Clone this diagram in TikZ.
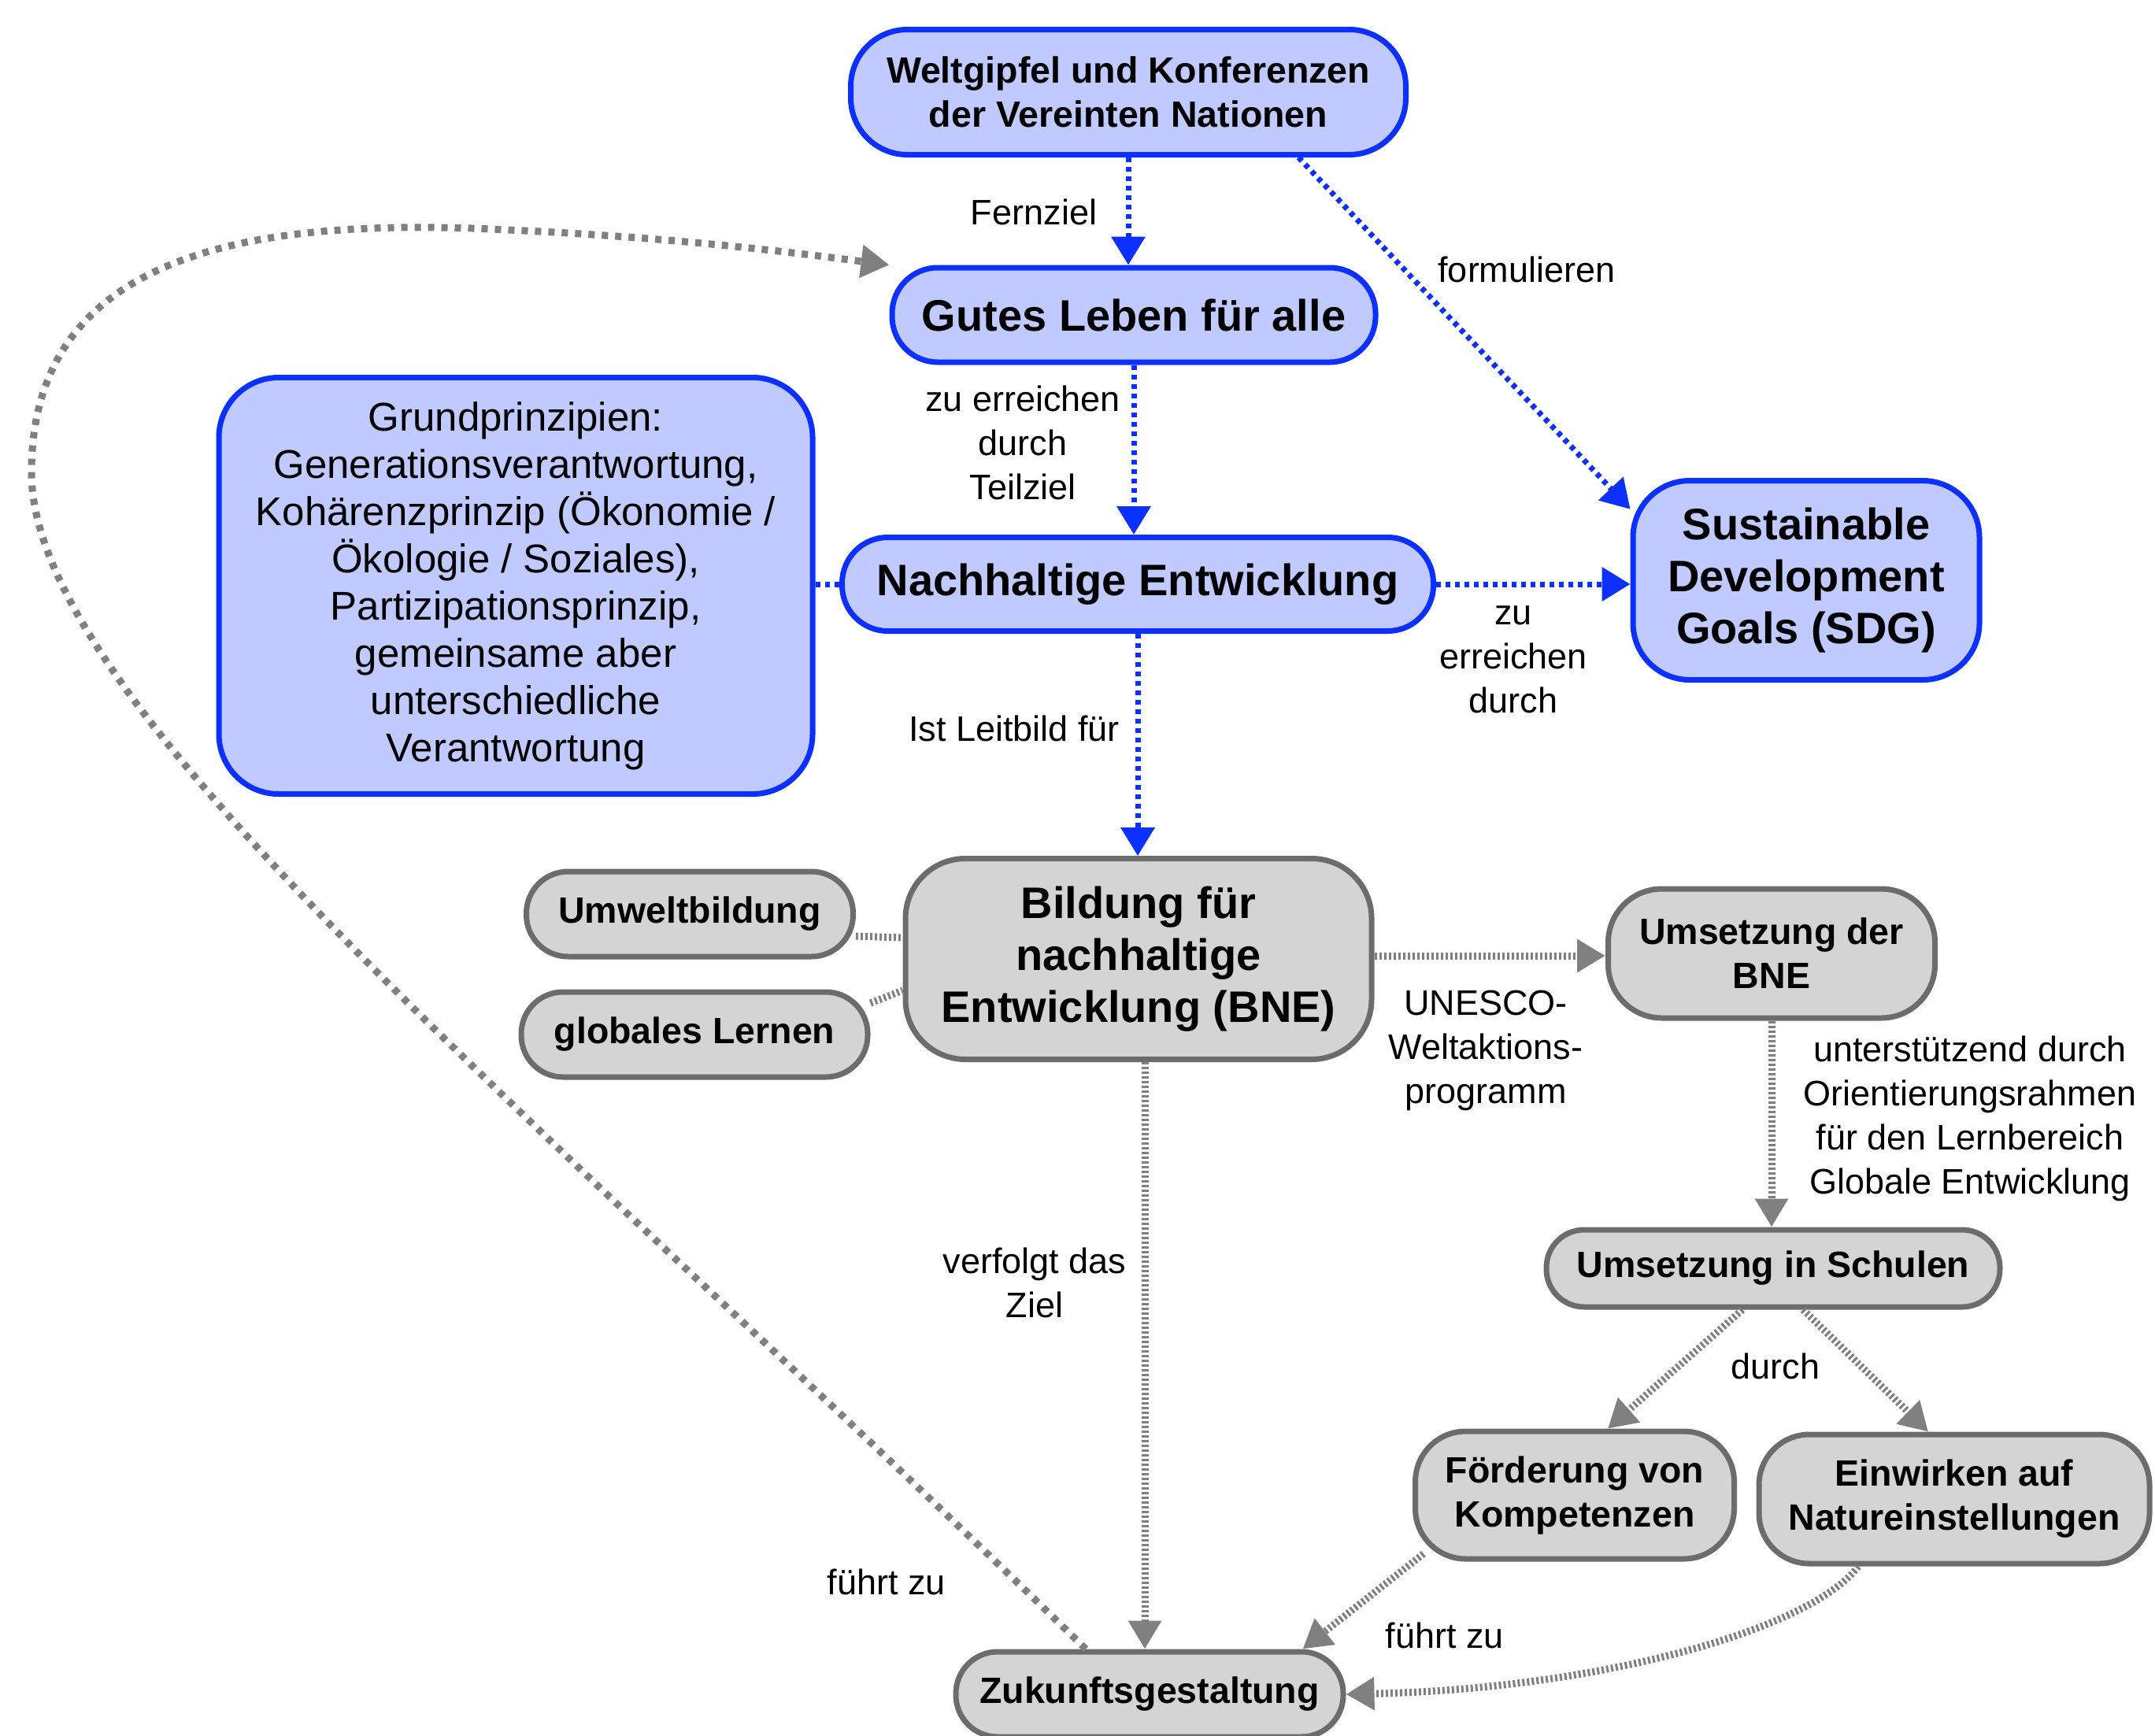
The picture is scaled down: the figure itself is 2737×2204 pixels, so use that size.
\documentclass[tikz,border=0pt]{standalone}
\usepackage{fontspec}
\setmainfont{Liberation Sans}
\usetikzlibrary{arrows.meta,calc}
\definecolor{bfill}{RGB}{192,202,255}
\definecolor{bline}{RGB}{12,48,255}
\definecolor{gfill}{RGB}{212,212,212}
\definecolor{gline}{RGB}{108,108,108}
\definecolor{gedgec}{RGB}{128,128,128}
\newcommand\bigbold{\fontsize{56}{66}\selectfont\bfseries}
\newcommand\midbold{\fontsize{46.5}{56}\selectfont\bfseries}
\newcommand\lblfont{\fontsize{45}{56}\selectfont}
\newcommand\grundfont{\fontsize{51}{60}\selectfont}
\begin{document}
\begin{tikzpicture}[x=1pt,y=-1pt,
  bluebox/.style={draw=bline, fill=bfill, line width=7pt, rounded corners=52pt, inner sep=0pt, align=center, text=black},
  graybox/.style={draw=gline, fill=gfill, line width=7pt, rounded corners=50pt, inner sep=0pt, align=center, text=black},
  lab/.style={font=\lblfont, align=center, inner sep=0pt, text=black},
  bedge/.style={draw=bline, line width=7pt, dash pattern=on 6pt off 6pt, -{Triangle[length=36pt,width=42pt]}},
  gedge/.style={draw=gedgec, line width=9pt, dash pattern=on 3pt off 3pt, -{Triangle[length=36pt,width=40pt]}},
  loopedge/.style={draw=gedgec, line width=9pt, dash pattern=on 8pt off 9pt, -{Triangle[length=36pt,width=40pt]}}
]
\useasboundingbox (0,0) rectangle (2737,2204);
\fill[white] (0,0) rectangle (2737,2204);

% blue nodes
\node[bluebox, font=\midbold, minimum width=705pt, minimum height=159pt, rounded corners=72pt] (W) at (1433,117) {Weltgipfel und Konferenzen\\der Vereinten Nationen};
\node[bluebox, font=\bigbold, minimum width=614pt, minimum height=120pt, rounded corners=58pt] (G) at (1440,400) {Gutes Leben für alle};
\node[bluebox, font=\grundfont, minimum width=754pt, minimum height=529pt, rounded corners=76pt] (Gr) at (655,744) {Grundprinzipien:\\Generationsverantwortung,\\Kohärenzprinzip (Ökonomie /\\Ökologie / Soziales),\\Partizipationsprinzip,\\gemeinsame aber\\unterschiedliche\\Verantwortung};
\node[bluebox, font=\bigbold, minimum width=751pt, minimum height=119pt, rounded corners=58pt] (N) at (1445,742) {Nachhaltige Entwicklung};
\node[bluebox, font=\bigbold, minimum width=440pt, minimum height=253pt, rounded corners=72pt] (S) at (2294,737) {Sustainable\\Development\\Goals (SDG)};

% gray nodes
\node[graybox, font=\bigbold, minimum width=592pt, minimum height=255pt, rounded corners=76pt] (B) at (1446,1218) {Bildung für\\nachhaltige\\Entwicklung (BNE)};
\node[graybox, font=\midbold, minimum width=415pt, minimum height=108pt, rounded corners=53pt] (U) at (876,1161) {Umweltbildung};
\node[graybox, font=\midbold, minimum width=440pt, minimum height=108pt, rounded corners=53pt] (gl) at (882,1314) {globales Lernen};
\node[graybox, font=\midbold, minimum width=415pt, minimum height=164pt, rounded corners=68pt] (UB) at (2250,1211) {Umsetzung der\\BNE};
\node[graybox, font=\midbold, minimum width=576pt, minimum height=98pt, rounded corners=48pt] (Sch) at (2252,1611) {Umsetzung in Schulen};
\node[graybox, font=\midbold, minimum width=405pt, minimum height=162pt, rounded corners=64pt] (F) at (2000,1899) {Förderung von\\Kompetenzen};
\node[graybox, font=\midbold, minimum width=496pt, minimum height=164pt, rounded corners=64pt] (E) at (2482,1904) {Einwirken auf\\Natureinstellungen};
\node[graybox, font=\midbold, minimum width=492pt, minimum height=108pt, rounded corners=53pt] (Z) at (1460,2152) {Zukunftsgestaltung};

% blue connectors
\draw[bedge] (W.south) -- (W.south |- G.north);
\draw[bedge] (W.-21) -- (S.158);
\draw[bedge] (G.south) -- (G.south |- N.north);
\draw[bedge] (N.east) -- (N.east -| S.west);
\draw[bedge, -] (N.west -| Gr.east) -- (N.west);
\draw[bedge] (N.south) -- (N.south |- B.north);

% gray connectors
\draw[gedge, -] ([yshift=-28pt]U.east) -- ([yshift=27pt]B.west);
\draw[gedge, -] ([yshift=40pt]gl.east) -- ([yshift=-40pt]B.west);
\draw[gedge] ([yshift=4pt]B.east) -- ([yshift=4pt]B.east -| UB.west);
\draw[gedge] (UB.south) -- (UB.south |- Sch.north);
\draw[gedge] ([xshift=-39pt]Sch.south) -- ([xshift=42pt]F.north);
\draw[gedge] ([xshift=38pt]Sch.south) -- ([xshift=-33pt]E.north);
\draw[gedge] ([xshift=8pt]B.south) -- ([xshift=8pt]B.south |- Z.north);
\draw[gedge] ([shift={(14pt,10pt)}]F.south west) -- ([xshift=-55pt]Z.north east);
\draw[gedge] ([xshift=-122pt]E.south) .. controls (2300,2070) and (2030,2145) .. (Z.east);
\coordinate (zs) at ($(Z.north)+(-81,0)$);
\draw[loopedge] (zs) .. controls (700,1430) and (40,900) .. (40,600) .. controls (40,330) and (300,280) .. (600,290) .. controls (850,300) and (1000,320) .. (G.north west);

% labels
\node[lab] (l1) at (1313,269) {Fernziel};
\node[lab] (l2) at (1939,342) {formulieren};
\node[lab] (l3) at (1299,562) {zu erreichen\\durch\\Teilziel};
\node[lab] (l4) at (1922,838) {zu\\erreichen\\durch};
\node[lab] (l5) at (1288,925) {Ist Leitbild für};
\node[lab] (l6) at (1887,1334) {UNESCO-\\Weltaktions-\\programm};
\node[lab] (l7) at (2502,1421) {unterstützend durch\\Orientierungsrahmen\\für den Lernbereich\\Globale Entwicklung};
\node[lab] (l8) at (1314,1629) {verfolgt das\\Ziel};
\node[lab] (l9) at (2255,1735) {durch};
\node[lab] (l10) at (1126,2009) {führt zu};
\node[lab] (l11) at (1835,2077) {führt zu};
\end{tikzpicture}
\end{document}
